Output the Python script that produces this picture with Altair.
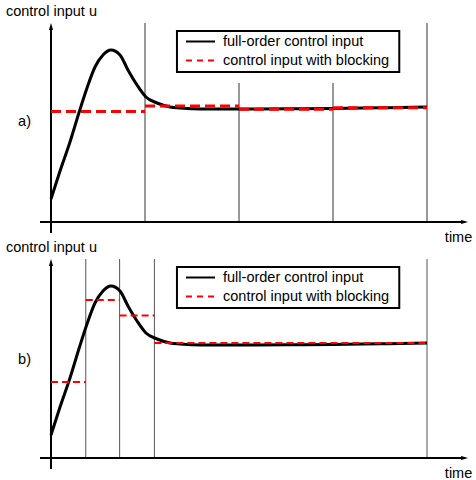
import altair as alt
import pandas as pd

# ---------------- data ----------------
# full-order control input (same response in both panels)
curve_t = [0.0, 0.096, 0.202, 0.3, 0.383, 0.468, 0.553, 0.638, 0.734, 0.819, 0.915,
           1.01, 1.128, 1.266, 1.372, 1.6, 2.0, 2.5, 3.0, 3.5, 4.0]
curve_u = [2.3, 5.1, 8.0, 11.0, 13.4, 15.5, 16.7, 17.2, 16.7, 15.2, 13.7,
           12.5, 11.9, 11.5, 11.4, 11.3, 11.3, 11.32, 11.36, 11.42, 11.5]

# panel a) blocking: equal blocks
a_start = [0.0, 1.0, 2.0, 3.0]
a_end = [1.0, 2.0, 3.0, 4.0]
a_u = [11.05, 11.6, 11.27, 11.42]
a_lines = [1.0, 2.0, 3.0, 4.0]
a_tops = [19.9, 13.9, 13.9, 19.9]

# panel b) blocking: short blocks first
b_start = [0.0, 0.37, 0.73, 1.1]
b_end = [0.37, 0.73, 1.1, 4.0]
b_u = [7.6, 15.8, 14.25, 11.5]
b_lines = [0.37, 0.73, 1.1, 4.0]
b_tops = [19.9, 19.9, 19.9, 19.9]

legend_labels = ["full-order control input", "control input with  blocking"]
panel_labels = ["a)", "b)"]
panel_label_u = [10.0, 9.8]
y_title = "control input u"
x_title = "time"

FONT = "Liberation Sans"
FS = 14.5
W = 476
XMIN, XMAX = -51 / 94, 425 / 94


def panel(label, label_u, s, e, u, lines, tops, height, umin, umax, red_w, red_dash, vcol):
    xs = alt.Scale(domain=[XMIN, XMAX], nice=False, zero=False)
    ys = alt.Scale(domain=[umin, umax], nice=False, zero=False)

    def X(f):
        return alt.X(f, type="quantitative", scale=xs, axis=None)

    def Y(f):
        return alt.Y(f, type="quantitative", scale=ys, axis=None)

    vdf = pd.DataFrame({"t": lines, "b": [0.0] * len(lines), "top": tops})
    verticals = alt.Chart(vdf).mark_rule(color=vcol, strokeWidth=1).encode(
        x=X("t"), y=Y("b"), y2="top")

    axdf = pd.DataFrame({"x": [0.0, -0.117], "x2": [0.0, 4.40],
                         "y": [-1.1, 0.0], "y2": [19.55, 0.0]})
    axes = alt.Chart(axdf).mark_rule(color="black", strokeWidth=2).encode(
        x=X("x"), x2="x2", y=Y("y"), y2="y2")

    arrdf = pd.DataFrame({"x": [0.0, 4.40], "y": [19.55, 0.0],
                          "shape": ["M0,-1L-0.6,1L0.6,1Z", "M1,0L-1,-0.6L-1,0.6Z"]})
    arrows = alt.Chart(arrdf).mark_point(filled=True, color="black", size=49, opacity=1).encode(
        x=X("x"), y=Y("y"), shape=alt.Shape("shape:N", scale=None))

    cdf = pd.DataFrame({"t": curve_t, "u": curve_u})
    curve = alt.Chart(cdf).mark_line(color="black", strokeWidth=3,
                                      interpolate="monotone").encode(x=X("t"), y=Y("u"))

    sdf = pd.DataFrame({"s": s, "e": e, "u": u})
    steps = alt.Chart(sdf).mark_rule(color="#ff0000", strokeWidth=red_w,
                                     strokeDash=red_dash).encode(x=X("s"), x2="e", y=Y("u"))

    # legend box
    bdf = pd.DataFrame({"x": [1.340], "x2": [3.705], "y": [15.0], "y2": [19.1]})
    box = alt.Chart(bdf).mark_rect(fill="white", stroke="black", strokeWidth=2).encode(
        x=X("x"), x2="x2", y=Y("y"), y2="y2")
    l1 = alt.Chart(pd.DataFrame({"x": [1.436], "x2": [1.745], "y": [18.05]})).mark_rule(
        color="black", strokeWidth=2).encode(x=X("x"), x2="x2", y=Y("y"))
    l2 = alt.Chart(pd.DataFrame({"x": [1.436], "x2": [1.745], "y": [16.15]})).mark_rule(
        color="#ff0000", strokeWidth=2, strokeDash=[6, 5]).encode(x=X("x"), x2="x2", y=Y("y"))
    ltdf = pd.DataFrame({"x": [1.83, 1.83], "y": [18.05, 16.15], "text": legend_labels})
    ltext = alt.Chart(ltdf).mark_text(align="left", baseline="middle", font=FONT,
                                      fontSize=FS, color="black").encode(
        x=X("x"), y=Y("y"), text="text:N")

    adf = pd.DataFrame({"x": [-0.48, -0.35, 4.19], "y": [21.0, label_u, -1.55],
                        "text": [y_title, label, x_title]})
    ann = alt.Chart(adf).mark_text(align="left", baseline="middle", font=FONT,
                                   fontSize=FS, color="black").encode(
        x=X("x"), y=Y("y"), text="text:N")

    return alt.layer(verticals, axes, arrows, curve, steps, box, l1, l2, ltext, ann).properties(
        width=W, height=height)


pa = panel(panel_labels[0], panel_label_u[0], a_start, a_end, a_u, a_lines, a_tops,
           235, -1.3, 22.2, 3, [10, 5], "#333333")
pb = panel(panel_labels[1], panel_label_u[1], b_start, b_end, b_u, b_lines, b_tops,
           245, -2.2, 22.3, 2, [7, 4], "#555555")

chart = alt.vconcat(pa, pb, spacing=0, bounds="flush").configure_view(
    stroke=None).properties(padding=0, background="white")

chart.save("out.html", embed_options={"renderer": "svg", "actions": False})
